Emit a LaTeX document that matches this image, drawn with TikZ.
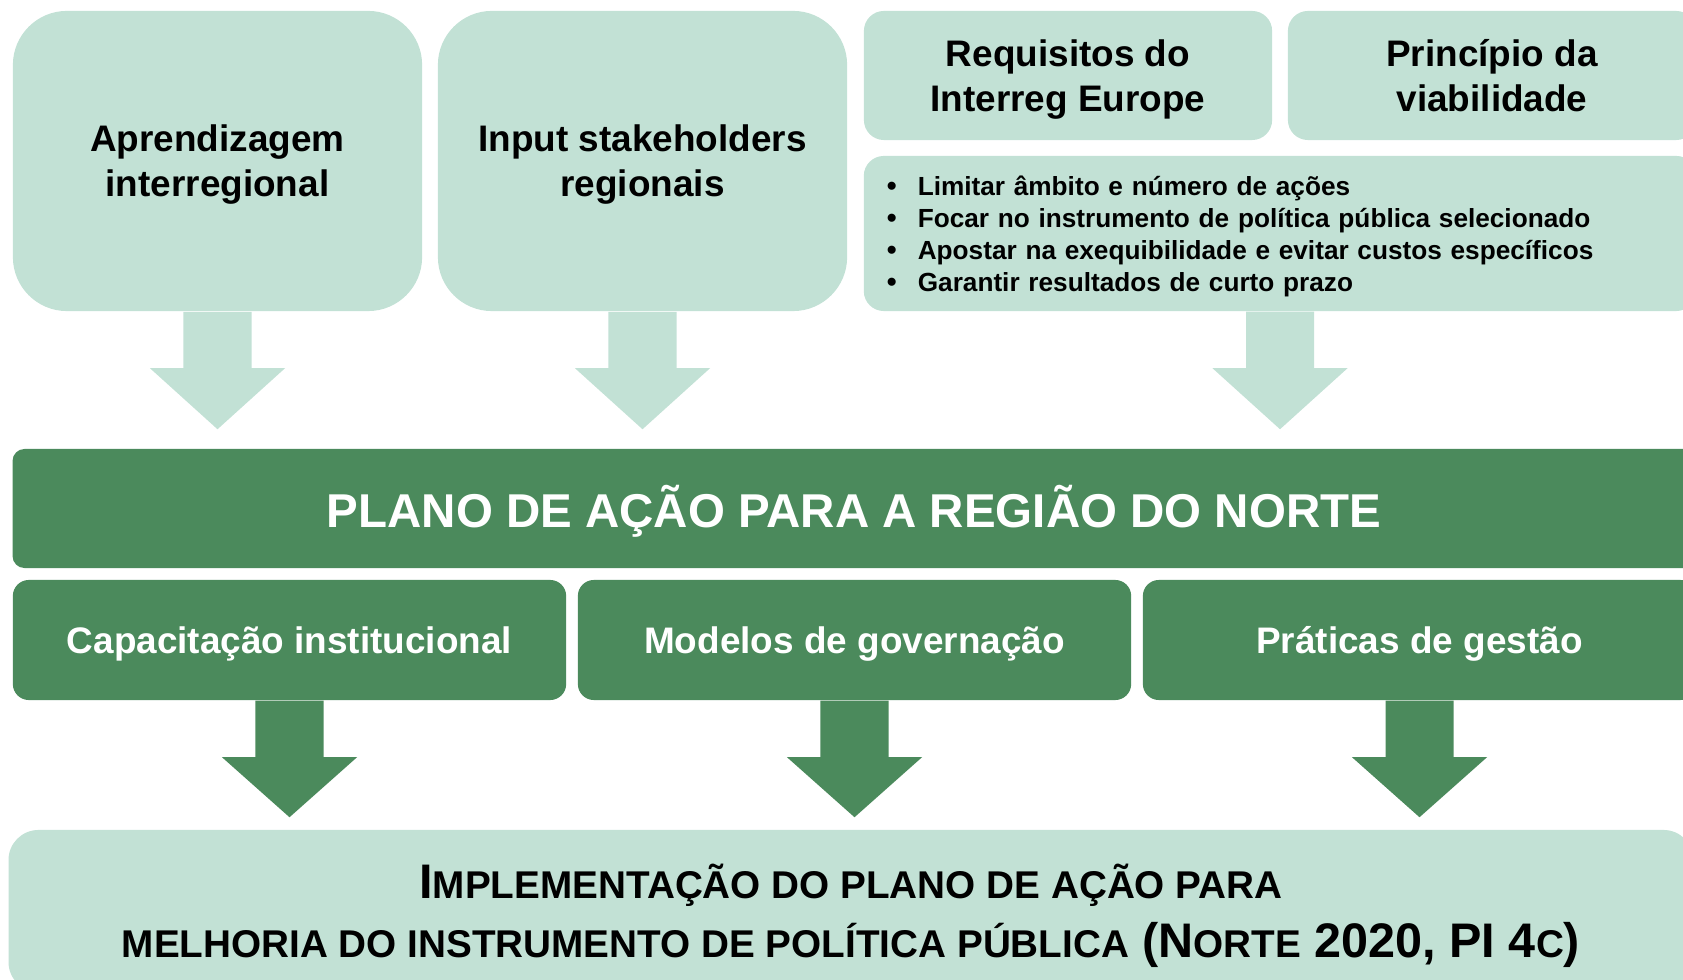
\documentclass[tikz,border=0pt]{standalone}
\usepackage{fontspec}
\setmainfont{Liberation Sans}
\usetikzlibrary{calc}
\definecolor{verdeclaro}{HTML}{C2E1D5}
\definecolor{verdeescuro}{HTML}{4B8A5C}
\newcommand\smc[1]{{\fontsize{11}{16.8}\selectfont #1}}
\begin{document}
\begin{tikzpicture}[x=0.01cm,y=-0.01cm,
claro/.style={fill=verdeclaro,text=black,font=\bfseries\fontsize{10.5}{12.8}\selectfont,align=center,inner sep=0pt,text depth=0pt},
escuro/.style={fill=verdeescuro,text=white,font=\bfseries\fontsize{10.5}{12.8}\selectfont,align=center,inner sep=0pt,text depth=0pt}]
\useasboundingbox(0,0)rectangle(1683,980);
\clip(0,0)rectangle(1683,980);
% entradas
\node[claro,rounded corners=0.54cm,minimum width=4.09cm,minimum height=3cm](apr)at(217.5,161){Aprendizagem\\interregional};
\node[claro,rounded corners=0.54cm,minimum width=4.09cm,minimum height=3cm](inp)at(642.5,161){Input stakeholders\\regionais};
\node[claro,rounded corners=0.2cm,minimum width=4.08cm,minimum height=1.29cm](req)at(1068,75.5){Requisitos do\\Interreg Europe};
\node[claro,rounded corners=0.2cm,minimum width=4.08cm,minimum height=1.29cm](pri)at(1492,75.5){Princípio da\\viabilidade};
\node[claro,rounded corners=0.2cm,minimum width=8.32cm,minimum height=1.55cm,text width=7.86cm,align=left,text depth=27.1pt,
font=\bfseries\fontsize{7.45}{9.1}\selectfont](lim)at(1280,233.5){%
\makebox[0.31cm][l]{\footnotesize\textbullet}Limitar âmbito e número de ações\\
\makebox[0.31cm][l]{\footnotesize\textbullet}Focar no instrumento de política pública selecionado\\
\makebox[0.31cm][l]{\footnotesize\textbullet}Apostar na exequibilidade e evitar custos específicos\\
\makebox[0.31cm][l]{\footnotesize\textbullet}Garantir resultados de curto prazo};
% plano
\node[escuro,rounded corners=0.12cm,minimum width=16.82cm,minimum height=1.19cm,text depth=1pt,
font=\bfseries\fontsize{13.5}{16}\selectfont](plano)at(854,508.5){PLANO DE AÇÃO PARA A REGIÃO DO NORTE};
\node[escuro,rounded corners=0.16cm,minimum width=5.53cm,minimum height=1.2cm](cap)at(289.5,640){Capacitação institucional};
\node[escuro,rounded corners=0.16cm,minimum width=5.53cm,minimum height=1.2cm](mod)at(854.5,640){Modelos de governação};
\node[escuro,rounded corners=0.16cm,minimum width=5.53cm,minimum height=1.2cm](pra)at(1419.5,640){Práticas de gestão};
% implementacao
\node[claro,rounded corners=0.3cm,minimum width=16.84cm,minimum height=1.62cm,
font=\bfseries\fontsize{13.8}{16.8}\selectfont](impl)at(851,911){%
I\smc{MPLEMENTAÇÃO DO PLANO DE AÇÃO PARA}\\
\smc{MELHORIA DO INSTRUMENTO DE POLÍTICA PÚBLICA} (N\smc{ORTE} 2020, PI 4\smc{C})};
% setas
\foreach \s in {apr,inp,lim}
\fill[verdeclaro]let\p1=(\s.south),\p2=(plano.north)in
(\x1-0.34cm,\y1)--(\x1-0.34cm,\y2+0.8cm)--(\x1-0.675cm,\y2+0.8cm)--(\x1,\y2+0.19cm)
--(\x1+0.675cm,\y2+0.8cm)--(\x1+0.34cm,\y2+0.8cm)--(\x1+0.34cm,\y1)--cycle;
\foreach \s in {cap,mod,pra}
\fill[verdeescuro]let\p1=(\s.south),\p2=(impl.north)in
(\x1-0.34cm,\y1)--(\x1-0.34cm,\y2+0.72cm)--(\x1-0.675cm,\y2+0.72cm)--(\x1,\y2+0.12cm)
--(\x1+0.675cm,\y2+0.72cm)--(\x1+0.34cm,\y2+0.72cm)--(\x1+0.34cm,\y1)--cycle;
\end{tikzpicture}
\end{document}
